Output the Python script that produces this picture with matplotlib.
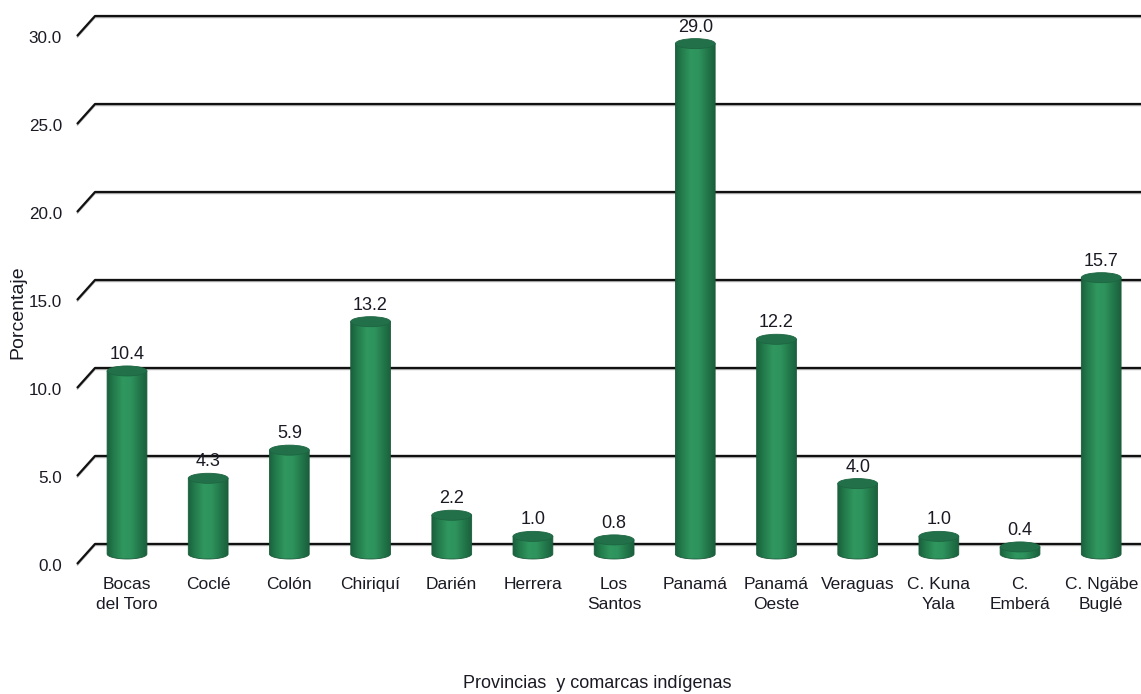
import numpy as np
import matplotlib.pyplot as plt
from matplotlib.patches import Ellipse, PathPatch
from matplotlib.path import Path
from matplotlib.colors import LinearSegmentedColormap

plt.rcParams['font.family'] = ['Liberation Sans', 'DejaVu Sans']

# data
categories = ["Bocas\ndel Toro", "Coclé", "Colón", "Chiriquí", "Darién", "Herrera",
              "Los\nSantos", "Panamá", "Panamá\nOeste", "Veraguas", "C. Kuna\nYala",
              "C.\nEmberá", "C. Ngäbe\nBuglé"]
values = [10.4, 4.3, 5.9, 13.2, 2.2, 1.0, 0.8, 29.0, 12.2, 4.0, 1.0, 0.4, 15.7]
y_ticks = [0, 5, 10, 15, 20, 25, 30]

# fake 3d geometry
depth_dx = 0.111      # half depth in category units
depth_dy = 0.57       # half depth in value units
bar_w = 0.49
cap_h = 0.57
text_color = '#1a1a24'

green = LinearSegmentedColormap.from_list(
    'cyl', ['#1a623e', '#25804f', '#30975f', '#2e935d', '#23794b', '#1a613d'])

fig = plt.figure(figsize=(11.41, 6.94), dpi=100)
ax = fig.add_axes([77 / 1141, 130 / 694, 1064 / 1141, 548 / 694])
xmin, xmax = -0.616, 12.49
ymin, ymax = -depth_dy, 30 + depth_dy

# gridlines with the side diagonal
for v in y_ticks:
    xs = [xmin, xmin + 2 * depth_dx, xmax + 1]
    ys = [v - depth_dy, v + depth_dy, v + depth_dy]
    ax.plot(xs, [y - 0.08 for y in ys], color='#b0b0b0', lw=1.2, zorder=1,
            clip_on=False, solid_capstyle='butt')
    ax.plot(xs, ys, color='#111111', lw=1.6, zorder=2, clip_on=False,
            solid_capstyle='butt')
    ax.text(-0.8, v - depth_dy - 0.12, f"{v:.1f}", ha='right', va='center',
            fontsize=12.3, color=text_color)

grad = np.linspace(0, 1, 64).reshape(1, -1)
t = np.linspace(np.pi, 2 * np.pi, 40)
for i, v in enumerate(values):
    left, right = i - bar_w / 2, i + bar_w / 2
    # body outline: sides plus lower half of base ellipse
    verts = [(left, v)]
    verts += [(i + bar_w / 2 * np.cos(a), cap_h / 2 * np.sin(a)) for a in t]
    verts += [(right, v), (left, v)]
    body = PathPatch(Path(verts, closed=True), facecolor='none',
                     edgecolor='#1a5a39', lw=0.6, zorder=4)
    ax.add_patch(body)
    im = ax.imshow(grad, cmap=green, aspect='auto', zorder=3,
                   extent=(left, right, -cap_h / 2, v), interpolation='bicubic')
    im.set_clip_path(body)
    ax.add_patch(Ellipse((i, v), bar_w, cap_h, facecolor='#22704a',
                         edgecolor='#1d6541', lw=0.6, zorder=5))
    ax.text(i, v + cap_h / 2 + 0.4, f"{v:.1f}", ha='center', va='baseline',
            fontsize=13, color=text_color)
    ax.text(i, -1.3, categories[i], ha='center', va='top', fontsize=12.5,
            color=text_color, linespacing=1.45)

ax.set_xlim(xmin, xmax)
ax.set_ylim(ymin, ymax)
ax.axis('off')

fig.text(18 / 1141, 1 - 312 / 694, "Porcentaje", rotation=90, ha='center',
         va='center', fontsize=14, color=text_color)
fig.text(597 / 1141, 1 - 684 / 694, "Provincias  y comarcas indígenas",
         ha='center', va='center', fontsize=13, color=text_color)

fig.savefig("out.png", dpi=100)
